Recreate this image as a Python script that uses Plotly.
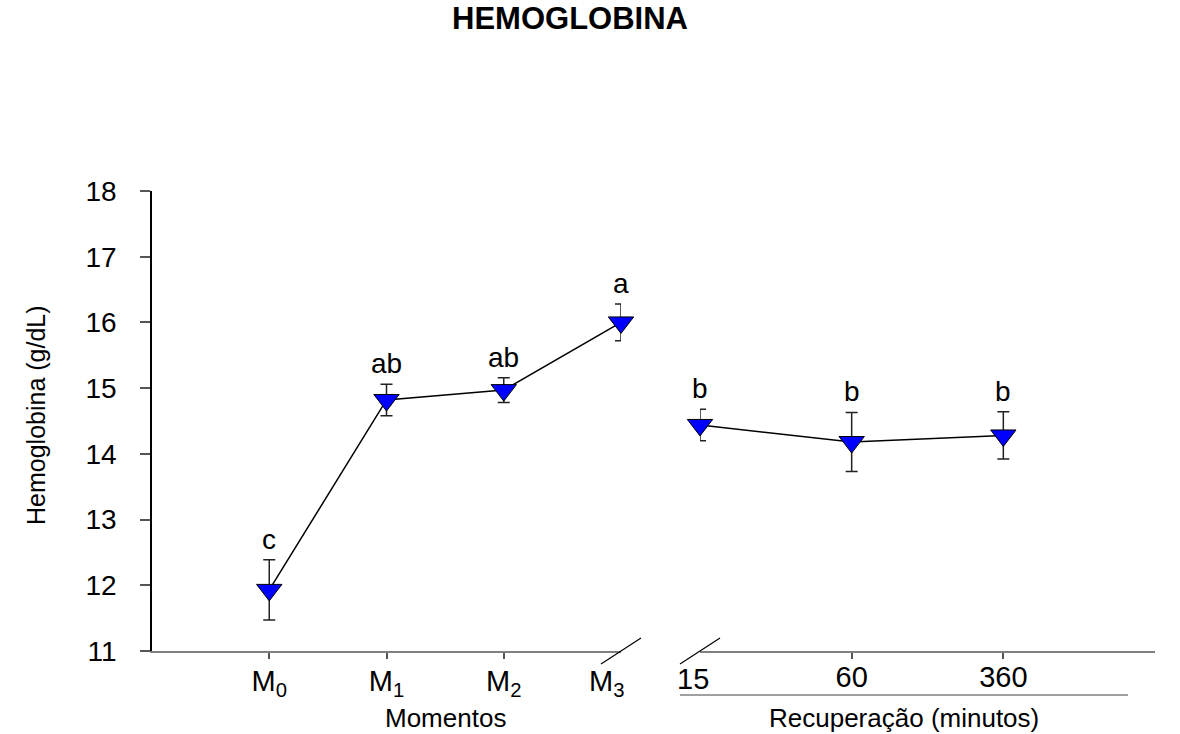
import plotly.graph_objects as go

# ---- data ----
momentos = ["M0", "M1", "M2", "M3"]
momentos_labels = ["M<sub>0</sub>", "M<sub>1</sub>", "M<sub>2</sub>", "M<sub>3</sub>"]
hb_momentos = [11.93, 14.82, 14.97, 16.00]
err_momentos = [0.46, 0.24, 0.19, 0.28]
let_momentos = ["c", "ab", "ab", "a"]

recuperacao = ["15", "60", "360"]
hb_recup = [14.44, 14.18, 14.28]
err_recup = [0.24, 0.45, 0.36]
let_recup = ["b", "b", "b"]

W, H = 1180, 734
ML, MR, MT, MB = 152, 25, 191, 83
PW = W - ML - MR
PH = H - MT - MB
X1_END = 621     # pixel end of first x axis (break)
X2_START = 700   # pixel start of second x axis (break)

def px2paper_x(px):
    return (px - ML) / PW

def px2paper_y(py):
    return (H - MB - py) / PH

FONT = "Arial, Liberation Sans, sans-serif"
blue = "#0000ff"

fig = go.Figure()

common_marker = dict(symbol="triangle-down", size=22, color=blue,
                     line=dict(color="black", width=1))

fig.add_trace(go.Scatter(
    x=momentos, y=hb_momentos, xaxis="x", yaxis="y", mode="lines+markers",
    line=dict(color="black", width=1.5), marker=common_marker,
    error_y=dict(type="data", array=err_momentos, visible=True,
                 color="#222", thickness=1.5, width=6),
    cliponaxis=False, showlegend=False))

fig.add_trace(go.Scatter(
    x=recuperacao, y=hb_recup, xaxis="x2", yaxis="y", mode="lines+markers",
    line=dict(color="black", width=1.5), marker=common_marker,
    error_y=dict(type="data", array=err_recup, visible=True,
                 color="#222", thickness=1.5, width=6),
    cliponaxis=False, showlegend=False))

annotations = []
for i, (v, e, t) in enumerate(zip(hb_momentos, err_momentos, let_momentos)):
    annotations.append(dict(x=i, y=v + e, xref="x", yref="y", text=t,
                            showarrow=False, xanchor="center", yanchor="bottom", yshift=3,
                            font=dict(family=FONT, size=28, color="black")))
for i, (v, e, t) in enumerate(zip(hb_recup, err_recup, let_recup)):
    annotations.append(dict(x=i, y=v + e, xref="x2", yref="y", text=t,
                            showarrow=False, xanchor="center", yanchor="bottom", yshift=3,
                            font=dict(family=FONT, size=28, color="black")))

# tick labels at the axis breaks (no tick mark there)
annotations.append(dict(x=3, y=0, xref="x", yref="paper",
                        text=momentos_labels[3], showarrow=False,
                        xanchor="center", yanchor="top", xshift=-15, yshift=-12,
                        font=dict(family=FONT, size=29, color="black")))
annotations.append(dict(x=0, y=0, xref="x2", yref="paper",
                        text=recuperacao[0], showarrow=False,
                        xanchor="center", yanchor="top", xshift=-7, yshift=-10,
                        font=dict(family=FONT, size=29, color="black")))

# axis titles
annotations.append(dict(x=px2paper_x(445), y=px2paper_y(701), xref="paper", yref="paper",
                        text="Momentos", showarrow=False, xanchor="center", yanchor="top",
                        font=dict(family=FONT, size=26, color="black")))
annotations.append(dict(x=px2paper_x(904), y=px2paper_y(701), xref="paper", yref="paper",
                        text="Recuperação (minutos)", showarrow=False,
                        xanchor="center", yanchor="top",
                        font=dict(family=FONT, size=26, color="black")))
annotations.append(dict(x=px2paper_x(36), y=px2paper_y(415), xref="paper", yref="paper",
                        text="Hemoglobina (g/dL)", showarrow=False, textangle=-90,
                        xanchor="center", yanchor="middle",
                        font=dict(family=FONT, size=25, color="black")))

shapes = []
# break marks (slashes crossing the x-axis line at both ends of the gap)
for cx in (X1_END, X2_START):
    shapes.append(dict(type="line", xref="paper", yref="paper",
                       x0=px2paper_x(cx - 20), x1=px2paper_x(cx + 20),
                       y0=px2paper_y(664), y1=px2paper_y(638),
                       line=dict(color="black", width=1.2)))
# underline below recovery tick labels
shapes.append(dict(type="line", xref="paper", yref="paper",
                   x0=px2paper_x(680), x1=px2paper_x(1128),
                   y0=px2paper_y(695), y1=px2paper_y(695),
                   line=dict(color="#808080", width=1.5)))

fig.update_layout(
    width=W, height=H,
    margin=dict(l=ML, r=MR, t=MT, b=MB, autoexpand=False),
    paper_bgcolor="white", plot_bgcolor="white",
    font=dict(family=FONT, color="black"),
    title=dict(text="<b>HEMOGLOBINA</b>", x=570 / W, xanchor="center",
               y=1 - 7 / H, yanchor="top", yref="container",
               font=dict(family=FONT, size=31, color="black")),
    xaxis=dict(domain=[0, px2paper_x(X1_END)], type="category",
               categoryorder="array", categoryarray=momentos,
               range=[-1, 3], anchor="y",
               tickvals=momentos[:3], ticktext=momentos_labels[:3],
               ticks="outside", ticklen=6, tickcolor="#555", tickwidth=1.5,
               showline=True, linecolor="#808080", linewidth=1.5,
               showgrid=False, zeroline=False, ticklabelstandoff=-3,
               tickfont=dict(family=FONT, size=29, color="black")),
    xaxis2=dict(domain=[px2paper_x(X2_START), 1], type="category",
                categoryorder="array", categoryarray=recuperacao,
                range=[0, 3], anchor="y",
                tickvals=recuperacao[1:], ticktext=recuperacao[1:],
                ticks="outside", ticklen=6, tickcolor="#555", tickwidth=1.5,
                showline=True, linecolor="#808080", linewidth=1.5,
                showgrid=False, zeroline=False, ticklabelstandoff=-7,
                tickfont=dict(family=FONT, size=29, color="black")),
    yaxis=dict(range=[11, 18], dtick=1, tick0=11, anchor="x",
               ticks="outside", ticklen=10, tickcolor="#555", tickwidth=1.5,
               showline=True, linecolor="black", linewidth=1.5,
               showgrid=False, zeroline=False, ticklabelstandoff=18,
               tickfont=dict(family=FONT, size=28, color="black")),
    annotations=annotations,
    shapes=shapes,
)

fig.write_html("out.html")
